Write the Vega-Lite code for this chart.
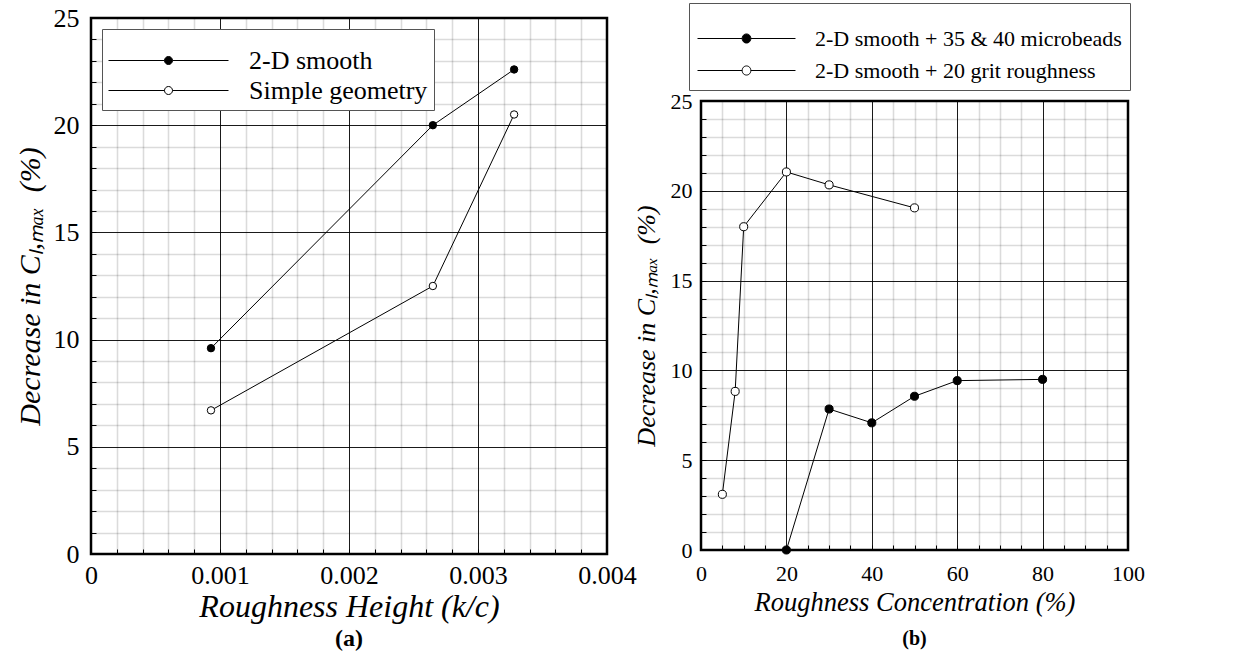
{
  "$schema": "https://vega.github.io/schema/vega-lite/v6.json",
  "padding": {"left": 13, "top": 2, "right": 0, "bottom": 0},
  "spacing": -7,
  "resolve": {"scale": {"fill": "independent"}, "legend": {"fill": "independent"}},
  "config": {
    "font": "Liberation Serif",
    "view": {"stroke": "black", "strokeWidth": 2.5},
    "axis": {
      "domain": false,
      "labelFont": "Liberation Serif",
      "labelColor": "black",
      "titleFont": "Liberation Serif",
      "titleFontStyle": "italic",
      "titleFontWeight": "normal",
      "titleColor": "black",
      "tickColor": "black",
      "tickSize": -5,
      "tickWidth": 1,
      "grid": true,
      "gridColor": "black"
    },
    "legend": {
      "labelFont": "Liberation Serif",
      "labelColor": "black",
      "labelLimit": 600,
      "strokeColor": "#555",
      "fillColor": "white",
      "rowPadding": 1,
      "symbolSize": 900,
      "symbolStrokeColor": "black",
      "symbolStrokeWidth": 1,
      "symbolOpacity": 1,
      "titlePadding": 2
    },
    "title": {"font": "Liberation Serif"}
  },
  "hconcat": [
    {
      "width": 516,
      "height": 536,
      "data": {"values": [
        {"k": 0.00093, "d": 9.6, "series": "2-D smooth"},
        {"k": 0.00265, "d": 20.0, "series": "2-D smooth"},
        {"k": 0.00328, "d": 22.6, "series": "2-D smooth"},
        {"k": 0.00093, "d": 6.7, "series": "Simple geometry"},
        {"k": 0.00265, "d": 12.5, "series": "Simple geometry"},
        {"k": 0.00328, "d": 20.5, "series": "Simple geometry"}
      ]},
      "title": {"text": "(a)", "orient": "bottom", "anchor": "middle", "fontSize": 24, "fontWeight": "bold", "color": "black", "offset": 5},
      "encoding": {
        "x": {
          "field": "k", "type": "quantitative",
          "scale": {"domain": [0, 0.004], "nice": false, "zero": false},
          "axis": {
            "title": "Roughness Height (k/c)",
            "titleFontSize": 32,
            "labelFontSize": 26,
            "values": [0,0.0002,0.0004,0.0006,0.0008,0.001,0.0012,0.0014,0.0016,0.0018,0.002,0.0022,0.0024,0.0026,0.0028,0.003,0.0032,0.0034,0.0036,0.0038,0.004],
            "format": ".3~f",
            "labelExpr": "abs(datum.value*1000 - round(datum.value*1000)) < 0.000001 ? datum.label : ''",
            "gridOpacity": {"condition": {"test": "abs(datum.value*1000 - round(datum.value*1000)) < 0.000001", "value": 1}, "value": 0.14},
            "gridWidth": {"condition": {"test": "abs(datum.value*1000 - round(datum.value*1000)) < 0.000001", "value": 0.9}, "value": 1.6},
            "labelPadding": 13,
            "titlePadding": 3,
            "labelFlush": false,
            "labelOverlap": false
          }
        },
        "y": {
          "field": "d", "type": "quantitative",
          "scale": {"domain": [0, 25], "nice": false},
          "axis": {
            "title": "Decrease in Cₗ,ₘₐₓ\u00a0 (%)",
            "titleFontSize": 30,
            "labelFontSize": 26,
            "values": [0,1,2,3,4,5,6,7,8,9,10,11,12,13,14,15,16,17,18,19,20,21,22,23,24,25],
            "labelExpr": "datum.value % 5 === 0 ? datum.label : ''",
            "gridOpacity": {"condition": {"test": "datum.value % 5 === 0", "value": 1}, "value": 0.14},
            "gridWidth": {"condition": {"test": "datum.value % 5 === 0", "value": 0.9}, "value": 1.6},
            "labelPadding": 17,
            "titlePadding": 8,
            "labelOverlap": false
          }
        }
      },
      "layer": [
        {"mark": {"type": "line", "color": "black", "strokeWidth": 1}, "encoding": {"detail": {"field": "series", "type": "nominal"}}},
        {
          "mark": {"type": "point", "shape": "circle", "filled": true, "size": 55, "stroke": "black", "strokeWidth": 1, "opacity": 1},
          "encoding": {
            "fill": {
              "field": "series", "type": "nominal",
              "scale": {"domain": ["2-D smooth", "Simple geometry"], "range": ["black", "white"]},
              "legend": {
                "title": " ",
                "titleFontSize": 8,
                "padding": 6,
                "labelFontSize": 26,
                "orient": "none",
                "legendX": 11,
                "legendY": 11,
                "symbolType": "M-1,0H2.733M3.267,0H7M2.733,0A0.267,0.267 0 1 1 3.267,0A0.267,0.267 0 1 1 2.733,0Z",
                "labelOffset": 110
              }
            }
          }
        }
      ]
    },
    {
      "spacing": -3,
      "resolve": {"scale": {"fill": "independent"}, "legend": {"fill": "independent"}},
      "vconcat": [
        {
          "width": 427,
          "height": 72,
          "view": {"stroke": null},
          "data": {"values": [
            {"series": "2-D smooth + 35 & 40 microbeads"},
            {"series": "2-D smooth + 20 grit roughness"}
          ]},
          "transform": [{"filter": "false"}],
          "mark": {"type": "point", "shape": "circle", "filled": true, "stroke": "black", "opacity": 1},
          "encoding": {
            "fill": {
              "field": "series", "type": "nominal",
              "scale": {"domain": ["2-D smooth + 35 & 40 microbeads", "2-D smooth + 20 grit roughness"], "range": ["black", "white"]},
              "legend": {
                "title": " ",
                "titleFontSize": 10,
                "padding": 8,
                "rowPadding": 5,
                "labelFontSize": 22,
                "orient": "none",
                "legendX": -12,
                "legendY": -15,
                "symbolType": "M-1,0H1.98M2.553,0H5.533M1.98,0A0.287,0.287 0 1 1 2.553,0A0.287,0.287 0 1 1 1.98,0Z",
                "labelOffset": 87
              }
            }
          }
        },
        {
          "width": 427,
          "height": 449,
          "data": {"values": [
            {"c": 20, "d": 0.0, "series": "2-D smooth + 35 & 40 microbeads"},
            {"c": 30, "d": 7.85, "series": "2-D smooth + 35 & 40 microbeads"},
            {"c": 40, "d": 7.08, "series": "2-D smooth + 35 & 40 microbeads"},
            {"c": 50, "d": 8.56, "series": "2-D smooth + 35 & 40 microbeads"},
            {"c": 60, "d": 9.43, "series": "2-D smooth + 35 & 40 microbeads"},
            {"c": 80, "d": 9.5, "series": "2-D smooth + 35 & 40 microbeads"},
            {"c": 5, "d": 3.1, "series": "2-D smooth + 20 grit roughness"},
            {"c": 8, "d": 8.83, "series": "2-D smooth + 20 grit roughness"},
            {"c": 10, "d": 18.0, "series": "2-D smooth + 20 grit roughness"},
            {"c": 20, "d": 21.05, "series": "2-D smooth + 20 grit roughness"},
            {"c": 30, "d": 20.33, "series": "2-D smooth + 20 grit roughness"},
            {"c": 50, "d": 19.05, "series": "2-D smooth + 20 grit roughness"}
          ]},
          "title": {"text": "(b)", "orient": "bottom", "anchor": "middle", "fontSize": 20, "fontWeight": "bold", "color": "black", "offset": 13},
          "encoding": {
            "x": {
              "field": "c", "type": "quantitative",
              "scale": {"domain": [0, 100], "nice": false},
              "axis": {
                "title": "Roughness Concentration (%)",
                "titleFontSize": 26.5,
                "labelFontSize": 22,
                "values": [0,5,10,15,20,25,30,35,40,45,50,55,60,65,70,75,80,85,90,95,100],
                "labelExpr": "datum.value % 20 === 0 ? datum.label : ''",
                "gridOpacity": {"condition": {"test": "datum.value % 20 === 0", "value": 1}, "value": 0.14},
                "gridWidth": {"condition": {"test": "datum.value % 20 === 0", "value": 0.9}, "value": 1.6},
                "labelPadding": 18,
                "titlePadding": 5,
                "labelFlush": false,
                "labelOverlap": false
              }
            },
            "y": {
              "field": "d", "type": "quantitative",
              "scale": {"domain": [0, 25], "nice": false},
              "axis": {
                "title": "Decrease in Cₗ,ₘₐₓ\u00a0 (%)",
                "titleFontSize": 26,
                "labelFontSize": 22,
                "values": [0,1,2,3,4,5,6,7,8,9,10,11,12,13,14,15,16,17,18,19,20,21,22,23,24,25],
                "labelExpr": "datum.value % 5 === 0 ? datum.label : ''",
                "gridOpacity": {"condition": {"test": "datum.value % 5 === 0", "value": 1}, "value": 0.14},
                "gridWidth": {"condition": {"test": "datum.value % 5 === 0", "value": 0.9}, "value": 1.6},
                "labelPadding": 14,
                "titlePadding": 11,
                "labelOverlap": false
              }
            }
          },
          "layer": [
            {"mark": {"type": "line", "color": "black", "strokeWidth": 1}, "encoding": {"detail": {"field": "series", "type": "nominal"}}},
            {
              "mark": {"type": "point", "shape": "circle", "filled": true, "size": 65, "stroke": "black", "strokeWidth": 1, "opacity": 1},
              "encoding": {
                "fill": {
                  "field": "series", "type": "nominal",
                  "scale": {"domain": ["2-D smooth + 35 & 40 microbeads", "2-D smooth + 20 grit roughness"], "range": ["black", "white"]},
                  "legend": null
                }
              }
            }
          ]
        }
      ]
    }
  ]
}
